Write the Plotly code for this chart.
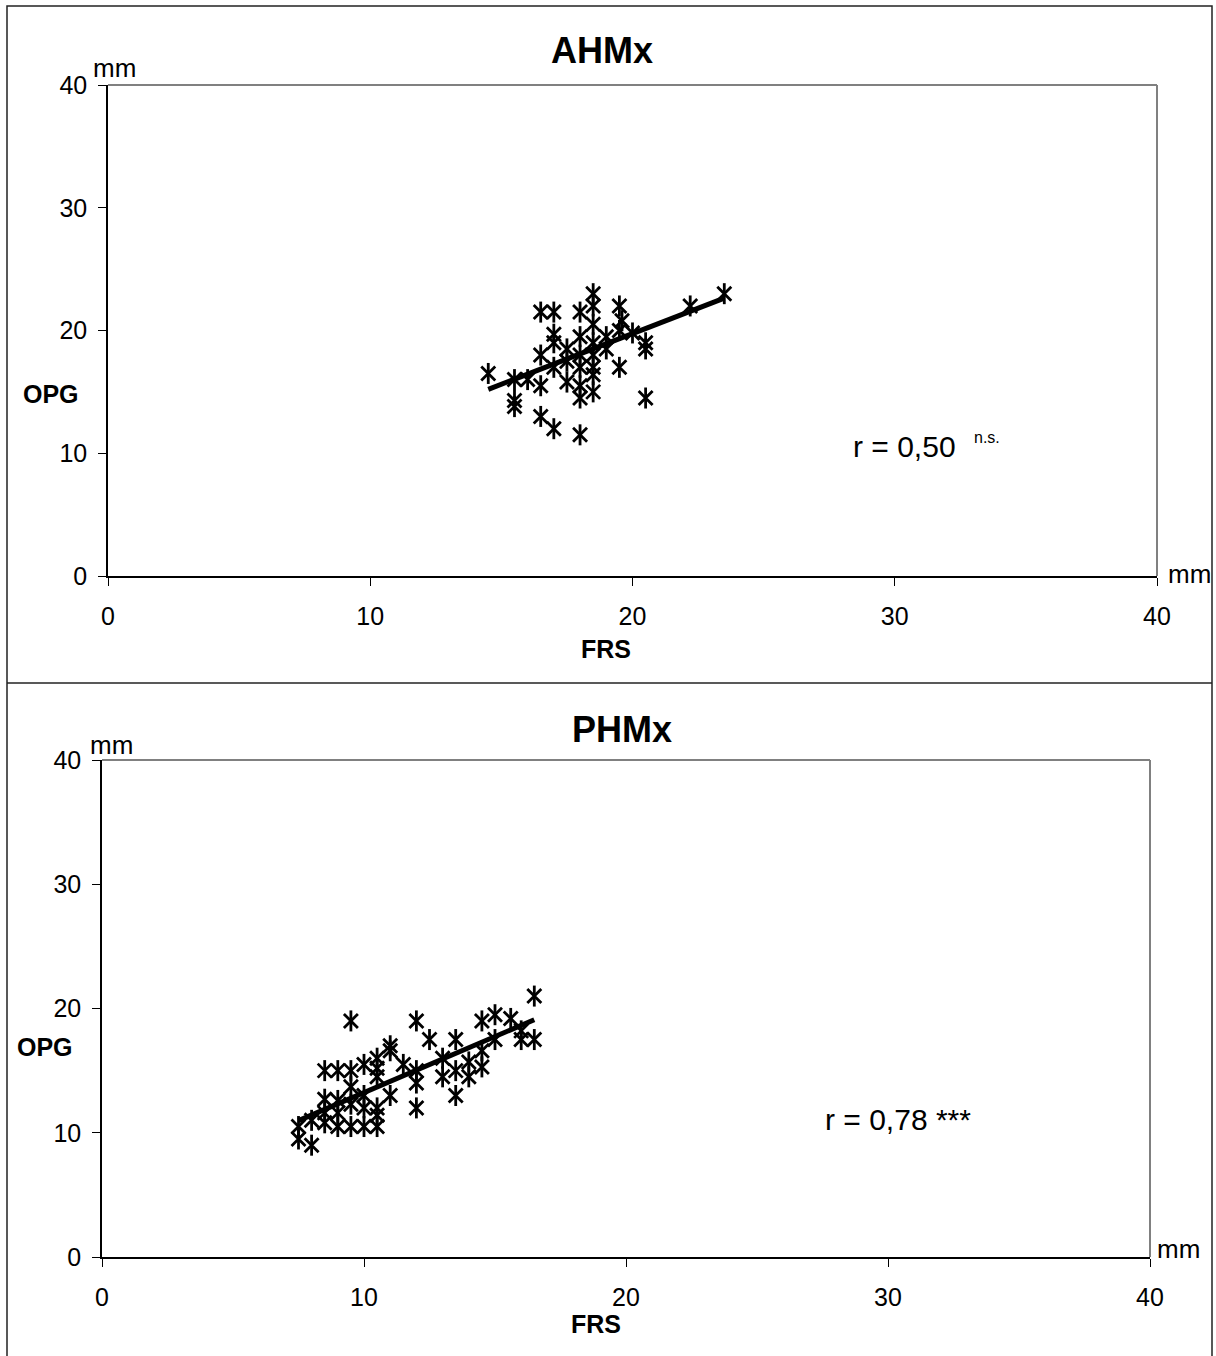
import plotly.graph_objects as go

# ---- data -------------------------------------------------------------
ahmx_frs = [14.5, 15.5, 16, 15.5, 15.5, 16.5, 17, 18, 18.5, 18.5, 19.5, 22.2, 23.5,
            18.5, 19.6, 17, 17, 18, 19, 19, 19.5, 20, 20.5, 20.5, 16.5, 17.5, 17.5,
            18, 18.5, 17, 16.5, 17.5, 18, 18.5, 18.5, 18, 19.5, 20.5, 16.5, 17, 18,
            18, 18.5, 18.5]
ahmx_opg = [16.5, 16, 16, 13.8, 14.3, 21.5, 21.5, 21.5, 23, 22, 22, 22, 23,
            20.5, 20.8, 19.7, 19, 19.5, 19.5, 18.5, 20, 19.8, 19, 18.5, 18, 18.5, 17.5,
            18, 18, 17, 15.5, 15.8, 15.5, 16.4, 15, 14.5, 17, 14.5, 13, 12, 11.5,
            17, 19, 17]
ahmx_fit = (3.23, 0.826)      # intercept, slope
ahmx_r = "r = 0,50"
ahmx_sig = "n.s."

phmx_frs = [9.5, 12, 14.5, 15, 15.6, 16.5, 12.5, 13.5, 15, 16, 16.5, 16, 11, 11,
            10.5, 10, 8.5, 9, 9.5, 11.5, 12, 12, 12, 13, 13, 13.5, 13.5, 14, 14,
            14.5, 9.5, 10.5, 10.5, 10, 11, 8.5, 9, 9.5, 9, 8.5, 8, 8.5, 7.5, 7.5,
            8, 9, 9.5, 10, 10.5, 10.5, 10.5, 10, 14.5]
phmx_opg = [19, 19, 19, 19.5, 19.2, 21, 17.5, 17.5, 17.5, 17.5, 17.5, 18.2, 17, 16.6,
            16, 15.5, 15, 15, 15, 15.5, 15, 14, 12, 16, 14.5, 15, 13, 15.7, 14.5,
            16.6, 13.7, 14.5, 15.2, 13, 13, 12.7, 12.6, 12.3, 11.6, 11.6, 11, 10.8, 10.5, 9.5,
            9, 10.5, 10.5, 10.5, 10.5, 12, 11.4, 12, 15.3]
phmx_fit = (4.20, 0.903)
phmx_r = "r = 0,78 ***"

tick_vals = [0, 10, 20, 30, 40]
axis_range = [0, 40]
unit = "mm"
x_title = "FRS"
y_title = "OPG"
titles = ["AHMx", "PHMx"]

# ---- layout helpers -----------------------------------------------------
W, H = 1216, 1356


def fx(x):
    return x / W


def fy(y):
    return 1 - y / H


FONT = "Liberation Sans, Arial, sans-serif"
TICKFONT = dict(family=FONT, size=25, color="black")

fig = go.Figure()


def add_panel(xs, ys, fit, xa, ya):
    # star markers: an X with a vertical bar through it
    fig.add_trace(go.Scatter(
        x=xs, y=ys, mode="markers", xaxis=xa, yaxis=ya, showlegend=False,
        marker=dict(symbol="x-thin-open", size=14, color="black",
                    line=dict(width=2.8, color="black"))))
    fig.add_trace(go.Scatter(
        x=xs, y=ys, mode="markers", xaxis=xa, yaxis=ya, showlegend=False,
        marker=dict(symbol="line-ns-open", size=15, color="black",
                    line=dict(width=2.8, color="black"))))
    # linear trend over the range of the data
    b0, b1 = fit
    lx = [min(xs), max(xs)]
    ly = [b0 + b1 * v for v in lx]
    fig.add_trace(go.Scatter(
        x=lx, y=ly, mode="lines", xaxis=xa, yaxis=ya, showlegend=False,
        line=dict(color="black", width=5)))


add_panel(ahmx_frs, ahmx_opg, ahmx_fit, "x", "y")
add_panel(phmx_frs, phmx_opg, phmx_fit, "x2", "y2")

base_x = dict(range=axis_range, tickvals=tick_vals, showgrid=False, zeroline=False,
              ticks="outside", ticklen=8, tickwidth=1, tickcolor="black",
              showline=True, linecolor="black", linewidth=1.5, automargin=False,
              tickfont=TICKFONT, ticklabelstandoff=9, fixedrange=True)
base_y = dict(range=axis_range, tickvals=tick_vals, showgrid=False, zeroline=False,
              ticks="outside", ticklen=8, tickwidth=1, tickcolor="black",
              showline=True, linecolor="black", linewidth=1.5, automargin=False,
              tickfont=TICKFONT, ticklabelstandoff=6, fixedrange=True)
inner = dict(range=axis_range, tickvals=tick_vals, showgrid=False, zeroline=False,
             ticks="inside", ticklen=8, tickwidth=1, tickcolor="black",
             showline=False, showticklabels=False, automargin=False, fixedrange=True)

layout = dict(
    width=W, height=H,
    margin=dict(l=0, r=0, t=0, b=0, pad=0, autoexpand=False),
    paper_bgcolor="white", plot_bgcolor="white", showlegend=False,
    xaxis=dict(base_x, domain=[fx(108), fx(1157)], anchor="y"),
    yaxis=dict(base_y, domain=[fy(576), fy(85)], anchor="x"),
    xaxis2=dict(base_x, domain=[fx(102), fx(1150)], anchor="y2"),
    yaxis2=dict(base_y, domain=[fy(1257), fy(760)], anchor="x2"),
    xaxis3=dict(inner, overlaying="x", anchor="y", side="bottom"),
    yaxis3=dict(inner, overlaying="y", anchor="x", side="left"),
    xaxis4=dict(inner, overlaying="x2", anchor="y2", side="bottom"),
    yaxis4=dict(inner, overlaying="y2", anchor="x2", side="left"),
)
fig.update_layout(**layout)

shapes = []
# grey frame on top and right of each plot area
for xr, yr in [("x domain", "y domain"), ("x2 domain", "y2 domain")]:
    shapes.append(dict(type="line", xref=xr, yref=yr, x0=0, x1=1, y0=1, y1=1,
                       line=dict(color="#808080", width=2), layer="below"))
    shapes.append(dict(type="line", xref=xr, yref=yr, x0=1, x1=1, y0=0, y1=1,
                       line=dict(color="#808080", width=2), layer="below"))
# outer box and divider between the two charts
shapes.append(dict(type="rect", xref="paper", yref="paper",
                   x0=fx(7), x1=fx(1212), y0=fy(1362), y1=fy(6),
                   line=dict(color="#222222", width=1.5)))
shapes.append(dict(type="line", xref="paper", yref="paper",
                   x0=fx(7), x1=fx(1212), y0=fy(683), y1=fy(683),
                   line=dict(color="#222222", width=1.5)))
fig.update_layout(shapes=shapes)


def note(text, x, y, size, bold=False, xanchor="center", yanchor="middle"):
    fig.add_annotation(text=f"<b>{text}</b>" if bold else text,
                       x=fx(x), y=fy(y), xref="paper", yref="paper",
                       xanchor=xanchor, yanchor=yanchor, showarrow=False,
                       font=dict(family=FONT, size=size, color="black"))


# chart titles
note(titles[0], 602, 50, 36, bold=True)
note(titles[1], 622, 729, 36, bold=True)
# axis titles
note(y_title, 51, 394, 25, bold=True)
note(x_title, 606, 649, 25, bold=True)
note(y_title, 45, 1047, 25, bold=True)
note(x_title, 596, 1324, 25, bold=True)
# units
note(unit, 114, 68, 26)
note(unit, 111, 745, 26)
note(unit, 1189, 574, 26)
note(unit, 1178, 1249, 26)
# correlation coefficients
note(ahmx_r, 851, 446, 30, xanchor="left")
note(ahmx_sig, 972, 437, 16, xanchor="left")
note(phmx_r, 823, 1119, 30, xanchor="left")

fig.write_html("out.html")
